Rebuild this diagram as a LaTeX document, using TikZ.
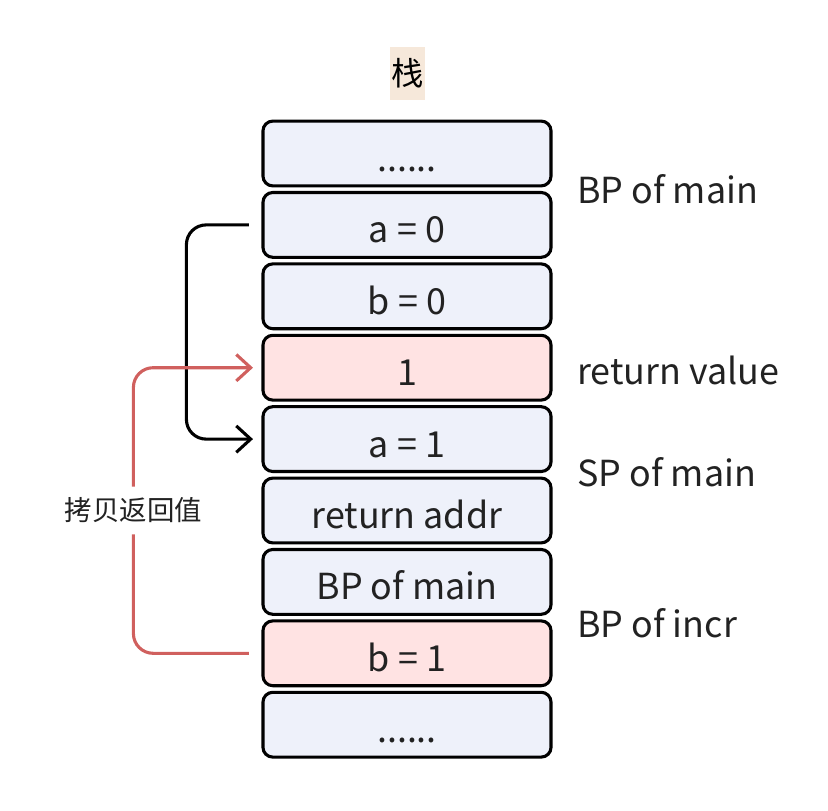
\documentclass[tikz,border=0pt]{standalone}
\usepackage{fontspec}
\setmainfont{Noto Sans CJK SC}
\usetikzlibrary{arrows.meta}
\definecolor{cellblue}{HTML}{EEF1FA}
\definecolor{cellred}{HTML}{FFE3E3}
\definecolor{copyred}{HTML}{D0605E}
\definecolor{titlebg}{HTML}{F6E8DA}
\definecolor{txtgray}{HTML}{222222}
\newcommand{\stackdots}{......}

\begin{document}
\begin{tikzpicture}[x=0.025cm,y=-0.025cm,
    cell/.style={draw,line width=2.2pt,rounded corners=7pt,minimum width=7.2cm,
      minimum height=1.62cm,text height=25.6pt,text depth=0pt,text=txtgray,
      font=\fontsize{25.5}{30}\selectfont},
    side/.style={anchor=base west,inner sep=0pt,text=txtgray,font=\fontsize{25.5}{30}\selectfont},
    link/.style={line width=2.2pt,rounded corners=14pt,shorten <=9pt,shorten >=6pt,
      -{Straight Barb[length=3.6mm,width=6.6mm]}}]
  \useasboundingbox (0,0) rectangle (828,810);

  \node[fill=titlebg,inner sep=0pt,minimum width=0.875cm,minimum height=1.325cm,
    font=\fontsize{23}{26}\selectfont] (title) at (407.5,73.5) {栈};

  % stack cells, top to bottom
  \foreach \i/\txt/\col in {1/\stackdots/cellblue,2/a = 0/cellblue,3/b = 0/cellblue,
      4/1/cellred,5/a = 1/cellblue,6/return addr/cellblue,7/BP of main/cellblue,
      8/b = 1/cellred,9/\stackdots/cellblue}
    \node[cell,fill=\col] (c\i) at (407,{153.5+71.4*(\i-1)}) {\txt};

  \node[side] (bpmain) at (577,203) {BP of main};
  \node[side] (retval) at (577,384) {return value};
  \node[side] (spmain) at (577,486) {SP of main};
  \node[side] (bpincr) at (577,637) {BP of incr};

  \draw[link] (c2.west) -- ++(-75,0) |- (c5.west);
  \draw[link,copyred] (c8.west) -- ++(-128,0)
    |- node[pos=0.25,fill=white,inner xsep=0pt,inner ysep=8pt,text=txtgray,
      font=\fontsize{19.5}{23}\selectfont] (copylbl) {拷贝返回值} (c4.west);
\end{tikzpicture}
\end{document}
